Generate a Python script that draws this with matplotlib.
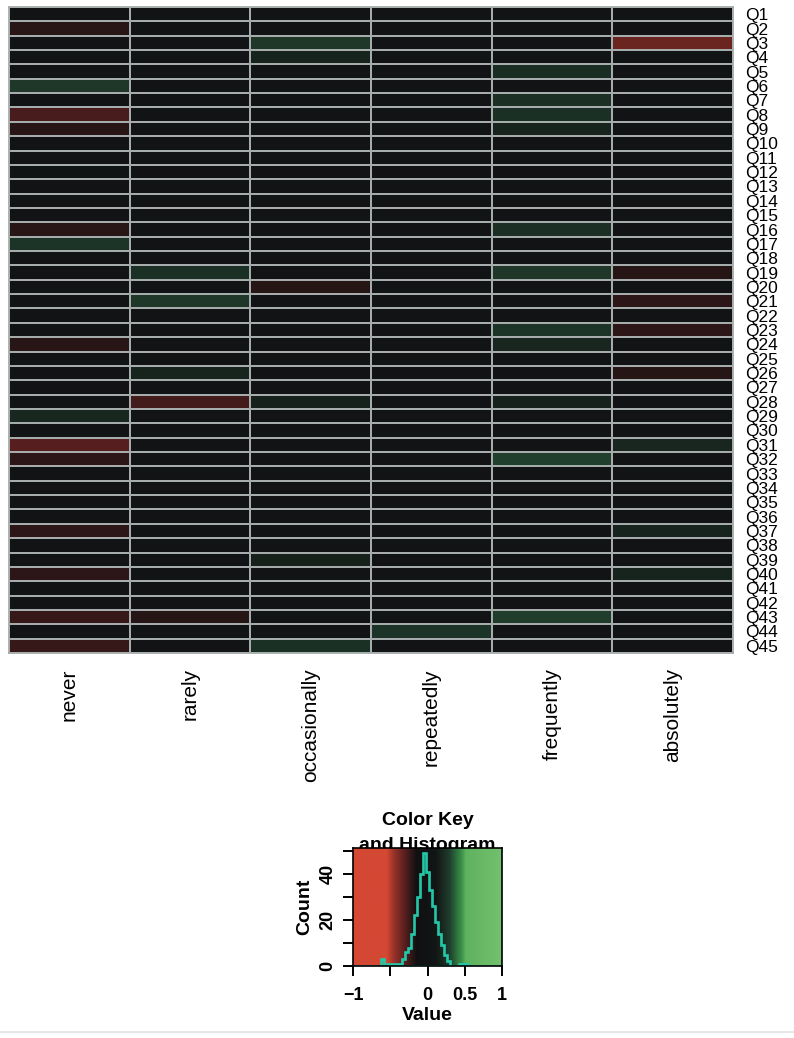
import numpy as np
import matplotlib
matplotlib.use("Agg")
import matplotlib.pyplot as plt
from matplotlib.colors import LinearSegmentedColormap
from matplotlib.lines import Line2D

plt.rcParams['font.family'] = ['Liberation Sans', 'DejaVu Sans']

# ---- data ----
questions = ['Q%d' % i for i in range(1, 46)]
answers = ['never', 'rarely', 'occasionally', 'repeatedly', 'frequently', 'absolutely']

never = [0, -0.20, 0, 0, 0, 0.27, 0, -0.27, -0.20, 0,
         0, 0.05, 0, 0, 0, -0.20, 0.25, 0, 0, 0,
         0, 0, 0, -0.20, 0, 0, 0, 0, 0.20, 0,
         -0.30, -0.21, 0, 0, 0, 0, -0.21, 0, 0, -0.21,
         0, 0, -0.23, 0, -0.23]
rarely = [0, 0, 0, 0, 0, 0, 0, 0, 0, 0,
          0, 0, 0, 0, 0, 0, 0, 0, 0.24, 0,
          0.27, 0, 0, 0, 0, 0.18, 0, -0.26, 0, 0,
          0, 0, 0, 0, 0, 0, 0, 0, 0, 0,
          0, 0, -0.19, 0, 0]
occasionally = [0, 0, 0.27, 0.18, 0, 0, 0, 0, 0, 0,
                0, 0, 0, 0, 0, 0, 0, 0, 0, -0.19,
                0, 0, 0, 0, 0, 0, 0, 0.17, 0, 0,
                0, 0, 0, 0, 0, 0, 0, 0, 0.17, 0,
                0, 0, 0, 0, 0.24]
repeatedly = [0, 0, 0, 0, 0, 0, 0, 0, 0, 0,
              0, 0, 0, 0, 0, 0, 0, 0, 0, 0,
              0, 0, 0, 0, 0, 0, 0, 0, 0, 0,
              0, 0, 0, 0, 0, 0, 0, 0, 0, 0,
              0, 0, 0, 0.25, 0]
frequently = [0, 0, 0, 0, 0.22, 0, 0.23, 0.24, 0.18, 0,
              0, 0, 0, 0, 0, 0.23, 0, 0, 0.27, 0,
              0, 0, 0.25, 0.19, 0, 0, 0, 0.17, 0, 0,
              0, 0.30, 0, 0, 0, 0, 0, 0, 0, 0,
              0, 0, 0.29, 0, 0]
absolutely = [0, 0, -0.35, 0, 0, 0, 0, 0, 0, 0,
              0, 0, 0, 0, 0, 0, 0, 0, -0.19, 0,
              -0.21, 0, -0.21, 0, 0, -0.19, 0, 0, 0, 0,
              0.19, 0, 0, 0, 0, 0, 0.18, 0, 0, 0.18,
              0, 0, 0, 0, 0]

# histogram of the colour key (counts per bin)
hist_edges = np.round(np.arange(-0.62, 0.6201, 0.04), 2)
hist_counts = [3, 0, 1, 1, 1, 1, 1, 3, 6, 8,
               14, 22, 30, 40, 49, 41, 33, 26, 19, 14,
               9, 5, 2, 0, 0, 0, 1, 1, 1, 0, 0]

# ---- colours ----
stops = [(-1.00, (212, 72, 52)), (-0.55, (212, 72, 52)), (-0.45, (150, 50, 40)),
         (-0.30, (85, 30, 30)), (-0.15, (18, 17, 18)), (0.00, (17, 19, 20)),
         (0.12, (18, 22, 21)), (0.30, (32, 62, 45)), (0.45, (55, 140, 70)),
         (0.52, (95, 178, 95)), (1.00, (115, 192, 110))]
cmap = LinearSegmentedColormap.from_list(
    'rg', [((v + 1) / 2, tuple(c / 255 for c in rgb)) for v, rgb in stops])

W, H = 794, 1038
fig = plt.figure(figsize=(W / 100, H / 100), dpi=100)

# ---- heatmap ----
data = np.column_stack([never, rarely, occasionally, repeatedly, frequently, absolutely])
ax = fig.add_axes([9 / W, 1 - 653 / H, 724 / W, 646 / H])
ax.pcolormesh(np.arange(len(answers) + 1), np.arange(len(questions) + 1), data,
              cmap=cmap, vmin=-1, vmax=1, edgecolors='#a6abab', linewidth=1.3)
ax.set_xlim(0, len(answers))
ax.set_ylim(len(questions), 0)
for s in ax.spines.values():
    s.set_color('#a6abab')
    s.set_linewidth(1.3)
ax.set_xticks(np.arange(len(answers)) + 0.5, answers, rotation=90)
ax.set_yticks(np.arange(len(questions)) + 0.5, questions)
ax.yaxis.tick_right()
ax.tick_params(axis='x', length=0, pad=11, labelsize=15)
ax.tick_params(axis='y', length=0, pad=9, labelsize=12.5)

# ---- colour key with histogram ----
ymax = max(hist_counts) / 0.95
kax = fig.add_axes([353 / W, 1 - 966 / H, 149 / W, 118.5 / H])
grad = np.linspace(-1, 1, 400)[None, :]
kax.imshow(grad, extent=(-1, 1, 0, ymax), aspect='auto', cmap=cmap,
           vmin=-1, vmax=1, origin='lower', interpolation='bilinear')
kax.stairs(hist_counts, hist_edges, color='#22c9a9', lw=1.9)
kax.plot([-1, 1], [0, 0], color='#22c9a9', lw=1.9)
kax.set_xlim(-1, 1)
kax.set_ylim(0, ymax)
kax.set_xticks([-1, -0.5, 0, 0.5, 1], ['\u22121', '', '0', '0.5', '1'])
kax.set_yticks([0, 10, 20, 30, 40, 50], ['0', '', '20', '', '40', ''])
for lab in kax.get_yticklabels():
    lab.set_rotation(90)
    lab.set_va('center')
for lab in kax.get_xticklabels() + kax.get_yticklabels():
    lab.set_fontweight('bold')
kax.tick_params(direction='out', length=7, width=1.4, labelsize=13)
kax.tick_params(axis='x', pad=8)
kax.tick_params(axis='y', pad=5)
for s in kax.spines.values():
    s.set_linewidth(1.2)

fig.text(427.5 / W, 1 - 825 / H, 'Color Key', ha='center', va='baseline',
         fontsize=14, fontweight='bold')
fig.text(427.5 / W, 1 - 850 / H, 'and Histogram', ha='center', va='baseline',
         fontsize=14, fontweight='bold', zorder=-1)
fig.text(305 / W, 1 - 907 / H, 'Count', rotation=90, ha='center', va='center',
         fontsize=14, fontweight='bold')
fig.text(427.5 / W, 1 - 1015 / H, 'Value', ha='center', va='center',
         fontsize=14, fontweight='bold')

# thin separator along the bottom edge
fig.add_artist(Line2D([0, 1], [1 - 1032 / H, 1 - 1032 / H], transform=fig.transFigure,
                      color='#e2e2e2', lw=1.2))

fig.savefig('out.png', dpi=100)
